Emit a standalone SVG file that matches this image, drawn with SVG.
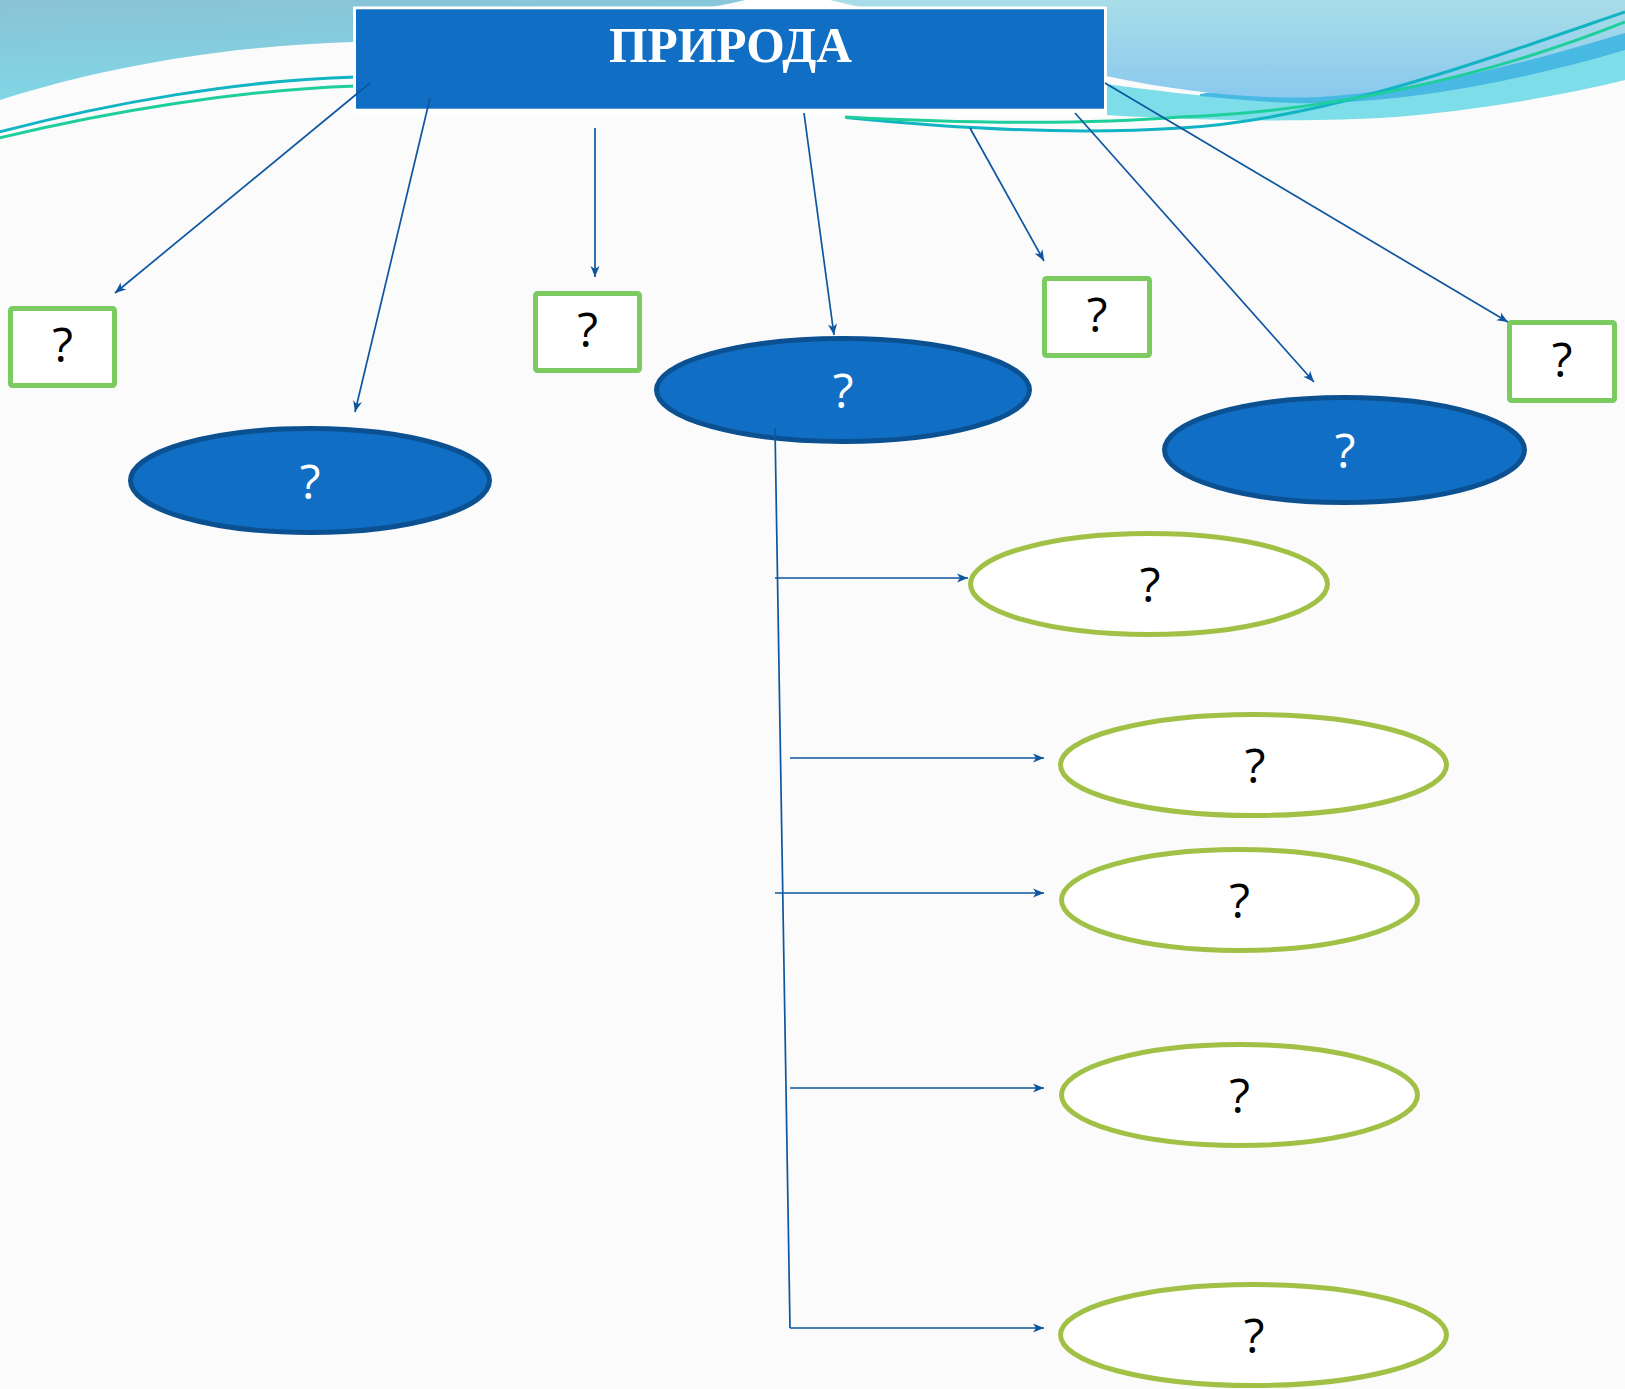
<svg xmlns="http://www.w3.org/2000/svg" width="1625" height="1389" viewBox="0 0 1625 1389">
<defs>
<linearGradient id="gTL" x1="0" y1="0" x2="0.25" y2="1">
<stop offset="0" stop-color="#8ac2d6"/>
<stop offset="1" stop-color="#7fd7e6"/>
</linearGradient>
<linearGradient id="gTR" x1="0" y1="0" x2="0" y2="1">
<stop offset="0" stop-color="#a8dde8"/>
<stop offset="1" stop-color="#8ac9ee"/>
</linearGradient>
<marker id="arr" viewBox="-12 -6 13 12" refX="0" refY="0" markerWidth="13" markerHeight="12" markerUnits="userSpaceOnUse" orient="auto">
<path d="M0,0 L-11,-4.5 L-8,0 L-11,4.5 Z" fill="#0d56a0"/>
</marker>
<style>
.box{fill:#ffffff;stroke:#7ccb61;stroke-width:5}
.blue{fill:#106fc4;stroke:#0b5192;stroke-width:5}
.oval{fill:#ffffff;stroke:#a0c146;stroke-width:5}
.q{font-family:"Open Sans","Noto Sans","DejaVu Sans",sans-serif;font-size:48px;text-anchor:middle;fill:#000000}
.qw{fill:#ffffff}
.c{fill:none;stroke:#0d56a0;stroke-width:1.7}
.ca{marker-end:url(#arr)}
</style>
</defs>
<g id="background">
<rect x="0" y="0" width="1625" height="1389" fill="#fbfbfb"/>
<path d="M0,0 L745,0 C650,22 500,38 353,42 C220,46 100,68 0,100 Z" fill="url(#gTL)"/>
<path d="M745,0 L830,0 L1000,60 L1106,80 L1106,117 L700,117 Z" fill="#ffffff"/>
<path d="M1106,84 C1150,90 1200,96 1240,99 L1625,45 L1625,80 C1560,96 1470,112 1380,118 C1300,122 1200,121 1106,115 Z" fill="#7ddde8"/>
<path d="M1200,94 L1625,20 L1625,50 C1530,78 1430,99 1330,103 C1280,104 1240,100 1200,96 Z" fill="#47b9e3"/>
<path d="M830,0 L1625,0 L1625,33 C1530,62 1420,90 1320,97 C1260,100 1180,92 1106,76 L1000,40 Z" fill="url(#gTR)"/>
<path d="M-5,133 C110,103 240,80 356,77" fill="none" stroke="#12b3c2" stroke-width="3"/>
<path d="M-5,139 C110,111 240,90 356,86" fill="none" stroke="#1ecf9c" stroke-width="3"/>
<path d="M846,117.5 C930,126 1060,136 1180,128 C1320,120 1470,65 1625,12" fill="none" stroke="#12b3c2" stroke-width="3"/>
<path d="M845,117 C940,122 1070,126 1180,117 C1320,112 1480,80 1625,22" fill="none" stroke="#1ecf9c" stroke-width="3"/>
</g>
<g id="title">
<rect x="353" y="6.5" width="754" height="108.5" fill="#ffffff"/>
<rect x="356" y="9.3" width="748" height="99.4" fill="#106fc4"/>
<text x="730.5" y="62" font-family="'Liberation Serif','DejaVu Serif',serif" font-weight="bold" font-size="50" fill="#ffffff" text-anchor="middle" textLength="243" lengthAdjust="spacingAndGlyphs">ПРИРОДА</text>
</g>
<g id="box1"><rect class="box" x="10.5" y="308.5" width="104" height="77" rx="2"/><text class="q" x="62.5" y="362">?</text></g>
<g id="box2"><rect class="box" x="535.5" y="293.5" width="104" height="77" rx="2"/><text class="q" x="587.5" y="347">?</text></g>
<g id="box3"><rect class="box" x="1044.5" y="278.5" width="105" height="77" rx="2"/><text class="q" x="1097" y="332">?</text></g>
<g id="box4"><rect class="box" x="1509.5" y="322.5" width="105" height="78" rx="2"/><text class="q" x="1562" y="377">?</text></g>
<g id="ellipseA"><ellipse class="blue" cx="310" cy="480.5" rx="179.5" ry="52"/><text class="q qw" x="310" y="498.5">?</text></g>
<g id="ellipseB"><ellipse class="blue" cx="843" cy="390" rx="186.5" ry="51.5"/><text class="q qw" x="843" y="408">?</text></g>
<g id="ellipseC"><ellipse class="blue" cx="1344.5" cy="450" rx="180" ry="52.5"/><text class="q qw" x="1345" y="468">?</text></g>
<g id="ovalD"><ellipse class="oval" cx="1149" cy="584" rx="178.5" ry="50.5"/><text class="q" x="1150" y="602">?</text></g>
<g id="ovalE"><ellipse class="oval" cx="1253.5" cy="765" rx="193" ry="50.5"/><text class="q" x="1255" y="783">?</text></g>
<g id="ovalF"><ellipse class="oval" cx="1239.5" cy="900" rx="178" ry="50.5"/><text class="q" x="1239.5" y="918">?</text></g>
<g id="ovalG"><ellipse class="oval" cx="1239.5" cy="1095" rx="178" ry="50.5"/><text class="q" x="1239.5" y="1113">?</text></g>
<g id="ovalH"><ellipse class="oval" cx="1253.5" cy="1335" rx="193" ry="50.5"/><text class="q" x="1254" y="1353">?</text></g>
<g id="connectors">
<line class="c ca" x1="370" y1="83" x2="115" y2="293"/>
<line class="c ca" x1="430" y1="98" x2="355" y2="412"/>
<line class="c ca" x1="595" y1="128" x2="595" y2="277"/>
<line class="c ca" x1="804" y1="113" x2="834" y2="335"/>
<line class="c ca" x1="970" y1="128" x2="1044" y2="261"/>
<line class="c ca" x1="1075" y1="113" x2="1314" y2="382"/>
<line class="c ca" x1="1105" y1="83" x2="1508" y2="322"/>
<line class="c" x1="775" y1="428" x2="790" y2="1328"/>
<line class="c ca" x1="775" y1="578" x2="968" y2="578"/>
<line class="c ca" x1="790" y1="758" x2="1044" y2="758"/>
<line class="c ca" x1="775" y1="893" x2="1044" y2="893"/>
<line class="c ca" x1="790" y1="1088" x2="1044" y2="1088"/>
<line class="c ca" x1="790" y1="1328" x2="1044" y2="1328"/>
</g>
</svg>
